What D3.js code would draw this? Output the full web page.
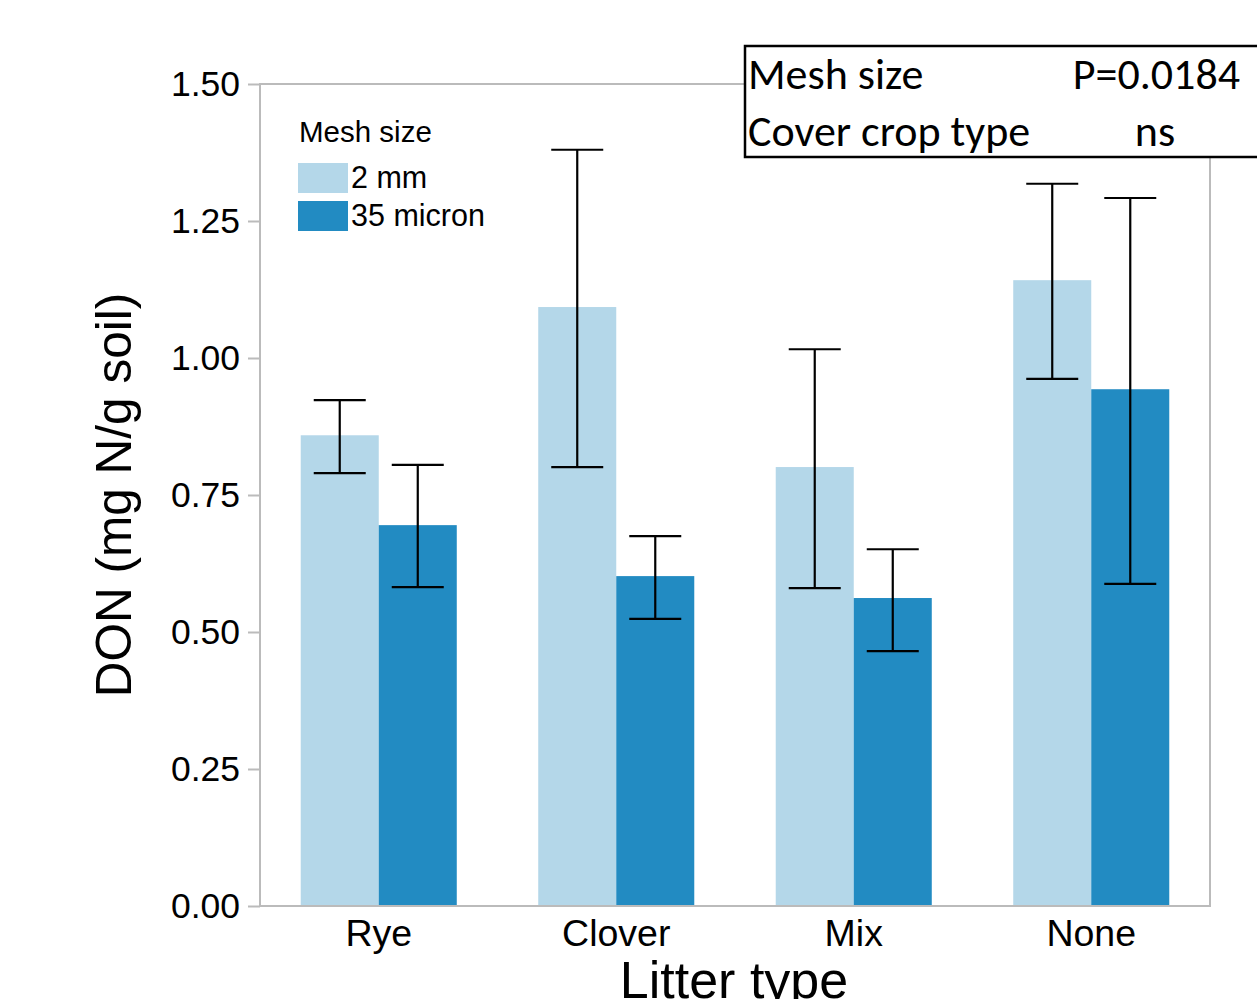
<!DOCTYPE html>
<html><head><meta charset="utf-8">
<script src="https://cdn.jsdelivr.net/npm/d3@7"></script>
<style>body{margin:0;background:#fff;overflow:hidden}</style>
</head><body>
<svg id="c" width="1257" height="999"></svg>
<script>
const categories = ["Rye", "Clover", "Mix", "None"];
const series = ["2 mm", "35 micron"];
const means2mm   = [0.859, 1.093, 0.801, 1.142];
const upper2mm   = [0.923, 1.380, 1.016, 1.318];
const lower2mm   = [0.790, 0.801, 0.580, 0.962];
const means35    = [0.695, 0.602, 0.562, 0.943];
const upper35    = [0.805, 0.675, 0.651, 1.292];
const lower35    = [0.582, 0.524, 0.465, 0.588];
const yTicks = [0, 0.25, 0.5, 0.75, 1.0, 1.25, 1.5];
const colors = ["#b4d7e9", "#228bc2"];
const statRows = [["Mesh size", "P=0.0184"], ["Cover crop type", "ns"]];

const svg = d3.select("#c");
const L = 260, R = 1210, T = 84, B = 906;
const font = "'Liberation Sans', Arial, sans-serif";

const x = d3.scaleBand().domain(categories).range([L, R]).paddingInner(0.343).paddingOuter(0.1715);
const xs = d3.scaleBand().domain(series).range([0, x.bandwidth()]);
const y = d3.scaleLinear().domain([0, 1.5]).range([B, T]);

const data = [];
categories.forEach((c, i) => {
  data.push({c, s: series[0], v: means2mm[i], lo: lower2mm[i], hi: upper2mm[i]});
  data.push({c, s: series[1], v: means35[i], lo: lower35[i], hi: upper35[i]});
});

// bars
svg.append("g").selectAll("rect").data(data).join("rect")
  .attr("x", d => x(d.c) + xs(d.s))
  .attr("y", d => y(d.v))
  .attr("width", xs.bandwidth())
  .attr("height", d => y(0) - y(d.v))
  .attr("fill", d => colors[series.indexOf(d.s)]);

// frame
svg.append("rect").attr("x", L).attr("y", T).attr("width", R - L).attr("height", B - T)
  .attr("fill", "none").attr("stroke", "#bbbbbb").attr("stroke-width", 2);

// y axis
const yAxis = d3.axisLeft(y).tickValues(yTicks).tickFormat(d3.format(".2f")).tickSize(12).tickPadding(8);
const ga = svg.append("g").attr("transform", `translate(${L},0)`).call(yAxis);
ga.select(".domain").remove();
ga.selectAll(".tick line").attr("stroke", "#bbbbbb").attr("stroke-width", 2);
ga.selectAll(".tick text").attr("font-family", font).attr("font-size", 35.5).attr("fill", "#000");

// x axis
const xAxis = d3.axisBottom(x).tickSize(0).tickPadding(13);
const gx = svg.append("g").attr("transform", `translate(0,${B})`).call(xAxis);
gx.select(".domain").remove();
gx.selectAll(".tick text").attr("font-family", font).attr("font-size", 37.5).attr("fill", "#000");

// error bars
const capW = 52;
const eg = svg.append("g").attr("stroke", "#000").attr("stroke-width", 2.2);
data.forEach(d => {
  const cx = x(d.c) + xs(d.s) + xs.bandwidth() / 2;
  eg.append("line").attr("x1", cx).attr("x2", cx).attr("y1", y(d.hi)).attr("y2", y(d.lo));
  eg.append("line").attr("x1", cx - capW/2).attr("x2", cx + capW/2).attr("y1", y(d.hi)).attr("y2", y(d.hi));
  eg.append("line").attr("x1", cx - capW/2).attr("x2", cx + capW/2).attr("y1", y(d.lo)).attr("y2", y(d.lo));
});

// legend
const lg = svg.append("g");
lg.append("text").attr("x", 299).attr("y", 142).text("Mesh size")
  .attr("font-family", font).attr("font-size", 29.5).attr("fill", "#000");
series.forEach((s, i) => {
  lg.append("rect").attr("x", 298).attr("y", 163 + i * 38).attr("width", 50).attr("height", 30).attr("fill", colors[i]);
  lg.append("text").attr("x", 351).attr("y", 188 + i * 38).text(s)
    .attr("font-family", font).attr("font-size", 30.5).attr("fill", "#000");
});

// axis titles
svg.append("text").attr("x", 734).attr("y", 998).attr("text-anchor", "middle")
  .attr("font-family", font).attr("font-size", 52).attr("fill", "#000").text("Litter type");
svg.append("text").attr("transform", "translate(131,495) rotate(-90)").attr("text-anchor", "middle")
  .attr("font-family", font).attr("font-size", 49.5).attr("fill", "#000").text("DON (mg N/g soil)");

// stats box
const bx = svg.append("g");
bx.append("rect").attr("x", 745).attr("y", 46).attr("width", 560).attr("height", 111)
  .attr("fill", "#fff").attr("stroke", "#000").attr("stroke-width", 2.5);
const bf = "Carlito, Lato, 'Open Sans', sans-serif";
statRows.forEach((r, i) => {
  bx.append("text").attr("x", 748).attr("y", 89 + i * 57).text(r[0])
    .attr("font-family", bf).attr("font-size", 44).attr("fill", "#000");
});
bx.append("text").attr("x", 1240).attr("y", 89).attr("text-anchor", "end").text(statRows[0][1])
  .attr("font-family", bf).attr("font-size", 44).attr("fill", "#000");
bx.append("text").attr("x", 1155).attr("y", 146).attr("text-anchor", "middle").text(statRows[1][1])
  .attr("font-family", bf).attr("font-size", 44).attr("fill", "#000");
</script>
</body></html>
